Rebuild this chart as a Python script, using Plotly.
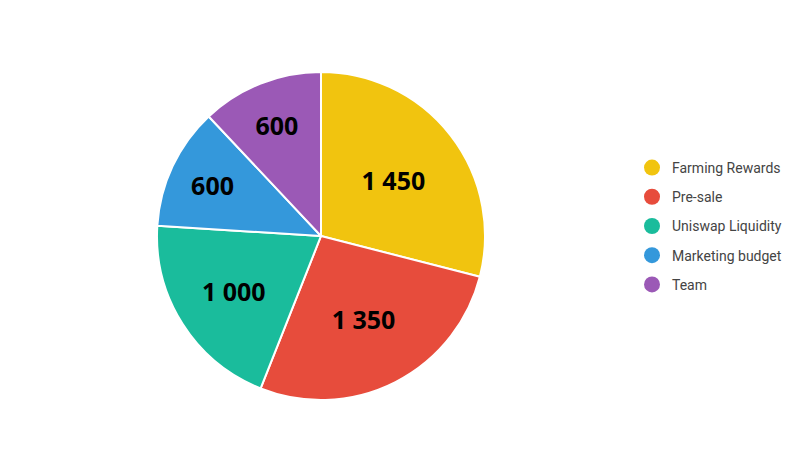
import plotly.graph_objects as go

# dados do gráfico
categorias = ["Farming Rewards", "Pre-sale", "Uniswap Liquidity", "Marketing budget", "Team"]
valores = [1450, 1350, 1000, 600, 600]
cores = ["#f1c40f", "#e74c3c", "#1abc9c", "#3498db", "#9b59b6"]

fig = go.Figure()

fig.add_trace(go.Pie(
    labels=categorias,
    values=valores,
    sort=False,
    direction="clockwise",
    rotation=0,
    marker=dict(colors=cores, line=dict(color="white", width=2)),
    texttemplate="%{value:,}",
    textposition="inside",
    insidetextorientation="horizontal",
    textfont=dict(family="Open Sans", size=25, color="black", weight="bold"),
    showlegend=False,
    hoverinfo="label+value",
    domain=dict(x=[0.18625, 0.59625], y=[0.1289, 0.8578]),
))

# legenda com marcadores circulares
for nome, cor in zip(categorias, cores):
    fig.add_trace(go.Scatter(
        x=[None], y=[None],
        mode="markers",
        marker=dict(symbol="circle", size=16, color=cor),
        name=nome,
        legendgroup=nome,
    ))

fig.update_layout(
    width=800,
    height=450,
    margin=dict(l=0, r=0, t=0, b=0),
    paper_bgcolor="white",
    plot_bgcolor="white",
    separators=". ",
    xaxis=dict(visible=False),
    yaxis=dict(visible=False),
    legend=dict(
        x=0.78, y=0.5156, xanchor="left", yanchor="middle",
        font=dict(family="Roboto", size=14, color="#444"),
        tracegroupgap=8,
        itemwidth=30,
    ),
)

fig.write_html("out.html")
